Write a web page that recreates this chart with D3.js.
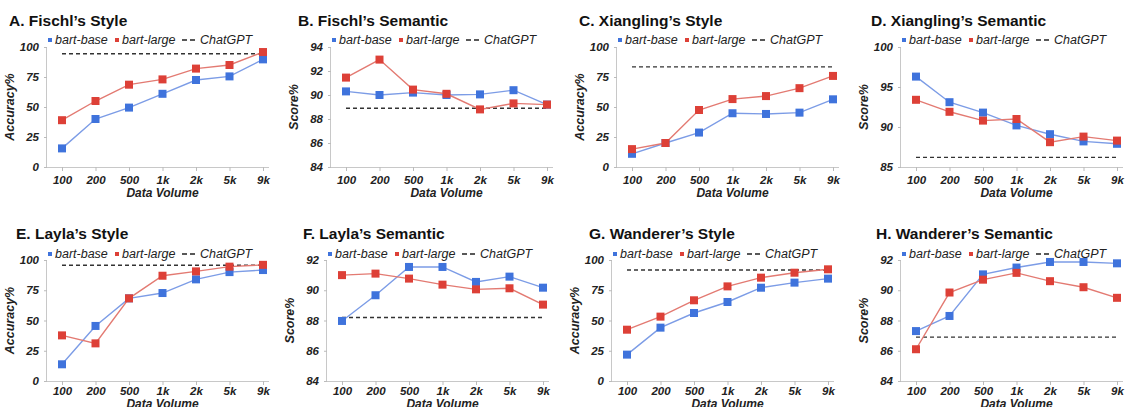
<!DOCTYPE html>
<html>
<head>
<meta charset="utf-8">
<script src="https://cdn.jsdelivr.net/npm/d3@7"></script>
<style>
  body { margin: 0; background: #fff; }
  svg { display: block; font-family: "Liberation Sans", Arial, sans-serif; }
</style>
</head>
<body>
<div id="chart"></div>
<script>
// Data volume categories shared by every panel
const categories = ["100", "200", "500", "1k", "2k", "5k", "9k"];

const titles = [
  "A. Fischl\u2019s Style", "B. Fischl\u2019s Semantic",
  "C. Xiangling\u2019s Style", "D. Xiangling\u2019s Semantic",
  "E. Layla\u2019s Style", "F. Layla\u2019s Semantic",
  "G. Wanderer\u2019s Style", "H. Wanderer\u2019s Semantic"
];
const yLabels = ["Accuracy%", "Score%", "Accuracy%", "Score%", "Accuracy%", "Score%", "Accuracy%", "Score%"];

// series values
const fischlStyleBase = [15.5, 40, 49.5, 61, 72.5, 75.5, 89.7];
const fischlStyleLarge = [39, 55, 68.6, 73, 82, 85, 95.8];
const fischlSemBase = [90.3, 90.0, 90.2, 90.0, 90.05, 90.4, 89.2];
const fischlSemLarge = [91.45, 92.95, 90.45, 90.1, 88.8, 89.3, 89.2];
const xianglingStyleBase = [11, 20, 28.7, 44.8, 44.2, 45.3, 56.4];
const xianglingStyleLarge = [14.9, 20, 47.5, 56.6, 59.1, 65.7, 75.9];
const xianglingSemBase = [96.3, 93.1, 91.8, 90.2, 89.1, 88.2, 87.9];
const xianglingSemLarge = [93.4, 91.9, 90.8, 91.0, 88.1, 88.8, 88.3];
const laylaStyleBase = [13.8, 45.5, 68.3, 72.7, 84, 90, 91.7];
const laylaStyleLarge = [37.7, 31.1, 68.3, 87, 90.6, 94.5, 96];
const laylaSemBase = [87.97, 89.67, 91.54, 91.54, 90.55, 90.9, 90.17];
const laylaSemLarge = [91.0, 91.1, 90.77, 90.37, 90.06, 90.13, 89.05];
const wandererStyleBase = [21.8, 44.1, 56.2, 65.3, 77.1, 81.3, 84.6];
const wandererStyleLarge = [42.4, 53.2, 66.7, 78.2, 85.4, 89.5, 92.3];
const wandererSemBase = [87.3, 88.3, 91.05, 91.5, 91.87, 91.87, 91.78];
const wandererSemLarge = [86.1, 89.85, 90.7, 91.15, 90.6, 90.2, 89.5];

const chatgpt = [94.4, 88.9, 83.4, 86.2, 95.6, 88.2, 91.7, 86.9];

const baseSeries = [fischlStyleBase, fischlSemBase, xianglingStyleBase, xianglingSemBase,
  laylaStyleBase, laylaSemBase, wandererStyleBase, wandererSemBase];
const largeSeries = [fischlStyleLarge, fischlSemLarge, xianglingStyleLarge, xianglingSemLarge,
  laylaStyleLarge, laylaSemLarge, wandererStyleLarge, wandererSemLarge];

// y domains and ticks per panel
const yDomains = [[0, 100], [84, 94], [0, 100], [85, 100], [0, 100], [84, 92], [0, 100], [84, 92]];
const yTicks = [
  [0, 25, 50, 75, 100], [84, 86, 88, 90, 92, 94],
  [0, 25, 50, 75, 100], [85, 90, 95, 100],
  [0, 25, 50, 75, 100], [84, 86, 88, 90, 92],
  [0, 25, 50, 75, 100], [84, 86, 88, 90, 92]
];

// layout: axis x position and title x per panel
const axisX = [47, 331, 617, 901, 47, 327, 612, 901];
const titleX = [9, 298, 579, 871, 16, 303, 589, 876];
const rows = [
  {top: 47, bottom: 167, title: 26, legend: 44, tick: 184, label: 197},
  {top: 260, bottom: 381, title: 239, legend: 258, tick: 395, label: 408}
];

const blue = "#3f73dc", blueLine = "#7c9ce6";
const red = "#dd4037", redLine = "#e37a72";

const width = 1128, height = 407;
const svg = d3.select("#chart").append("svg").attr("width", width).attr("height", height);

titles.forEach((title, i) => {
  const row = rows[i < 4 ? 0 : 1];
  const ax = axisX[i];
  const g = svg.append("g");

  const x = d3.scalePoint().domain(categories).range([ax + 15, ax + 216]);
  const y = d3.scaleLinear().domain(yDomains[i]).range([row.bottom, row.top]);

  // title
  g.append("text").attr("x", titleX[i]).attr("y", row.title)
    .attr("font-size", 15.5).attr("font-weight", "bold").attr("fill", "#111").text(title);

  // axes
  const yAxis = g.append("g").attr("transform", `translate(${ax},0)`)
    .call(d3.axisLeft(y).tickValues(yTicks[i]).tickSize(3).tickPadding(5));
  const xAxis = g.append("g").attr("transform", `translate(0,${row.bottom})`)
    .call(d3.axisBottom(x).tickSize(4).tickPadding(8).tickSizeOuter(0));
  xAxis.select(".domain").attr("d", `M${ax},0.5H${ax + 222}`);
  yAxis.select(".domain").attr("d", `M-0.5,${row.top}V${row.bottom}`);
  [xAxis, yAxis].forEach((a) => {
    a.select(".domain").attr("stroke", "#c8c8c8");
    a.selectAll(".tick line").attr("stroke", "#bbb");
    a.selectAll("text").attr("font-size", 11.5).attr("font-weight", "bold")
      .attr("font-style", "italic").attr("fill", "#222").attr("font-family", "Liberation Sans, Arial, sans-serif");
  });
  xAxis.selectAll(".tick text").attr("dy", null).attr("y", row.tick - row.bottom);

  // axis titles
  g.append("text").attr("x", (ax + 15 + ax + 216) / 2).attr("y", row.label)
    .attr("text-anchor", "middle").attr("font-size", 12).attr("font-style", "italic")
    .attr("font-weight", "bold").attr("fill", "#222").text("Data Volume");
  g.append("text")
    .attr("transform", `translate(${ax - 33},${(row.top + row.bottom) / 2}) rotate(-90)`)
    .attr("text-anchor", "middle").attr("font-size", 12.5).attr("font-style", "italic")
    .attr("font-weight", "bold").attr("fill", "#222").text(yLabels[i]);

  // ChatGPT reference line
  g.append("line")
    .attr("x1", x(categories[0])).attr("x2", x(categories[categories.length - 1]))
    .attr("y1", y(chatgpt[i])).attr("y2", y(chatgpt[i]))
    .attr("stroke", "#333").attr("stroke-width", 1.4).attr("stroke-dasharray", "4,3");

  // series
  const line = d3.line().x((d, j) => x(categories[j])).y((d) => y(d));
  [[baseSeries[i], blue, blueLine], [largeSeries[i], red, redLine]].forEach(([vals, c, lc]) => {
    g.append("path").datum(vals).attr("d", line).attr("fill", "none")
      .attr("stroke", lc).attr("stroke-width", 1.4);
    g.selectAll(null).data(vals).join("rect")
      .attr("x", (d, j) => x(categories[j]) - 4).attr("y", (d) => y(d) - 4)
      .attr("width", 8).attr("height", 8).attr("fill", c);
  });

  // legend
  const lg = g.append("g").attr("transform", `translate(${ax + 1},${row.legend})`);
  const items = [
    {label: "bart-base", color: blue, dx: 0},
    {label: "bart-large", color: red, dx: 67}
  ];
  items.forEach((it) => {
    lg.append("rect").attr("x", it.dx).attr("y", -6).attr("width", 4).attr("height", 4).attr("fill", it.color);
    lg.append("text").attr("x", it.dx + 7).attr("y", 0).attr("font-size", 12.5)
      .attr("font-style", "italic").attr("fill", "#222").text(it.label);
  });
  lg.append("line").attr("x1", 134).attr("x2", 147).attr("y1", -4).attr("y2", -4)
    .attr("stroke", "#222").attr("stroke-width", 1.6).attr("stroke-dasharray", "5,3");
  lg.append("text").attr("x", 152).attr("y", 0).attr("font-size", 12.5)
    .attr("font-style", "italic").attr("fill", "#222").text("ChatGPT");
});
</script>
</body>
</html>
